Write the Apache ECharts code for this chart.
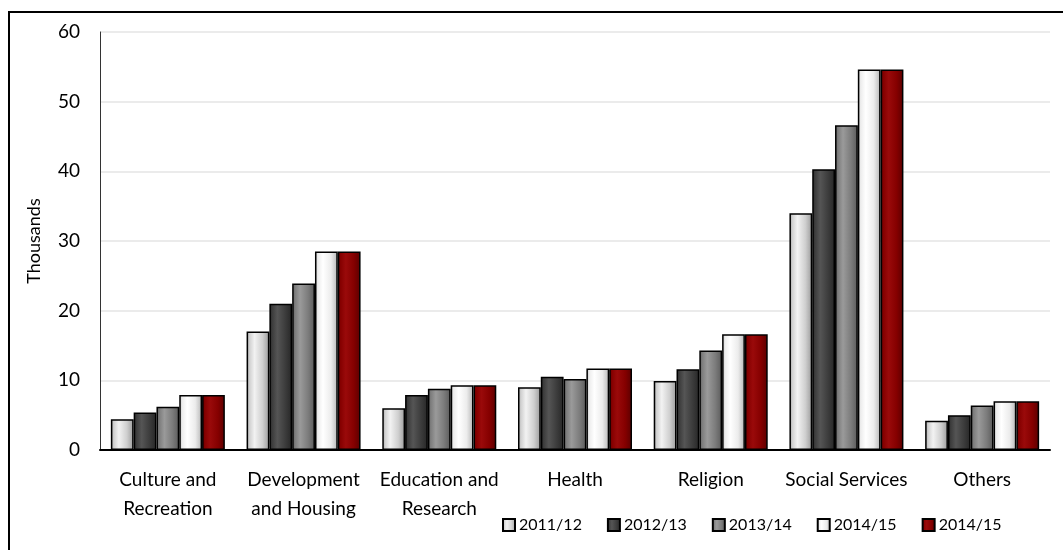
<!DOCTYPE html>
<html>
<head>
<meta charset="utf-8">
<script src="https://cdn.jsdelivr.net/npm/echarts@6/dist/echarts.min.js"></script>
<style>
  html, body { margin: 0; padding: 0; background: #fff; overflow: hidden; }
  #chart { width: 1063px; height: 550px; }
</style>
</head>
<body>
<div id="chart"></div>
<script>
const categories = ['Culture and\nRecreation', 'Development\nand Housing', 'Education and\nResearch', 'Health', 'Religion', 'Social Services', 'Others']
const seriesNames = ['2011/12', '2012/13', '2013/14', '2014/15', '2014/15 ']
const v2011 = [4.4, 17.0, 6.0, 9.0, 9.9, 34.0, 4.2]
const v2012 = [5.4, 21.0, 7.9, 10.5, 11.6, 40.3, 5.0]
const v2013 = [6.2, 23.9, 8.8, 10.2, 14.3, 46.6, 6.4]
const v2014a = [7.9, 28.5, 9.3, 11.7, 16.6, 54.6, 7.0]
const v2014b = [7.9, 28.5, 9.3, 11.7, 16.6, 54.6, 7.0]
const yTicks = [0, 10, 20, 30, 40, 50, 60]

const FONT = 'Lato'

// bevel-ish look: dark edges, light band left of centre
function bevel (edge, mid, hi) {
  return new echarts.graphic.LinearGradient(0, 0, 1, 0, [
    {offset: 0, color: edge},
    {offset: 0.12, color: mid},
    {offset: 0.35, color: hi},
    {offset: 0.7, color: mid},
    {offset: 1, color: edge}
  ])
}
const fills = [
  bevel('#9a9a9a', '#cfcfcf', '#f2f2f2'),
  bevel('#262626', '#3c3c3c', '#555555'),
  bevel('#5a5a5a', '#7c7c7c', '#9a9a9a'),
  bevel('#b5b5b5', '#ececec', '#ffffff'),
  bevel('#5a0000', '#850000', '#9a0a0a')
]
const values = [v2011, v2012, v2013, v2014a, v2014b]

const chart = echarts.init(document.getElementById('chart'))
const option = {
  animation: false,
  textStyle: {fontFamily: FONT},
  graphic: [
    {
      type: 'polyline',
      shape: {points: [[9, 600], [9, 12], [1100, 12]]},
      style: {fill: 'none', stroke: '#000', lineWidth: 2},
      silent: true
    }
  ],
  grid: {
    left: 100,
    right: 13,
    top: 32,
    bottom: 100
  },
  legend: {
    left: 497,
    top: 512,
    itemWidth: 12,
    itemHeight: 12,
    itemGap: 25,
    icon: 'rect',
    textStyle: {fontFamily: FONT, fontSize: 16, color: '#000', padding: [0, 0, 0, -1]},
    formatter: name => name.trim(),
    data: seriesNames
  },
  xAxis: {
    type: 'category',
    data: categories,
    axisLine: {lineStyle: {color: '#000', width: 2}},
    axisTick: {show: false},
    axisLabel: {
      color: '#000',
      fontFamily: FONT,
      fontSize: 19,
      lineHeight: 29,
      margin: 15,
      interval: 0
    }
  },
  yAxis: {
    type: 'value',
    min: 0,
    max: 60,
    interval: 10,
    name: 'Thousands',
    nameLocation: 'middle',
    nameGap: 57,
    nameRotate: 90,
    nameTextStyle: {color: '#000', fontFamily: FONT, fontSize: 18},
    axisLine: {show: true, lineStyle: {color: '#333', width: 1}},
    axisTick: {show: false},
    axisLabel: {
      color: '#000',
      fontFamily: FONT,
      fontSize: 19,
      margin: 20,
      formatter: v => (yTicks.includes(v) ? String(v) : '')
    },
    splitLine: {lineStyle: {color: '#ebebeb', width: 2}}
  },
  series: seriesNames.map((name, i) => ({
    name,
    type: 'bar',
    data: values[i],
    barGap: '0%',
    barCategoryGap: '16%',
    itemStyle: {
      color: fills[i],
      borderColor: '#000',
      borderWidth: 1.5
    }
  }))
}
chart.setOption(option)
</script>
</body>
</html>
